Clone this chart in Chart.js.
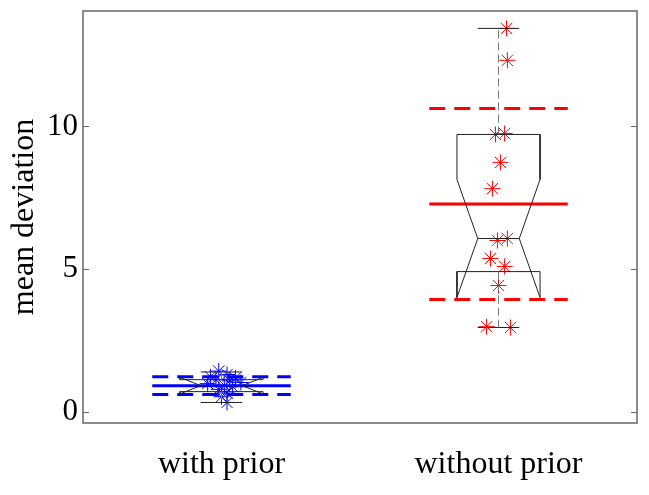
<!DOCTYPE html>
<html>
<head>
<meta charset="utf-8">
<script src="https://cdn.jsdelivr.net/npm/chart.js@4/dist/chart.umd.min.js"></script>
<style>
  html, body { margin: 0; padding: 0; background: #fff; }
  #wrap { width: 649px; height: 495px; }
</style>
</head>
<body>
<div id="wrap"><canvas id="chart" width="649" height="495"></canvas></div>
<script>
// Data
const groups = ['with prior', 'without prior'];
const yTicks = [0, 5, 10];

// box statistics per group
const q1 = [0.70, 4.91];
const median = [0.91, 6.07];
const q3 = [1.12, 9.72];
const notchLow = [0.62, 4.00];
const notchHigh = [1.20, 8.14];
const whiskerLow = [0.32, 2.95];
const whiskerHigh = [1.39, 13.44];
const means = [0.91, 7.28];
const stds = [0.31, 3.35];

// individual observations (x = jittered group position)
const withPriorX = [0.99, 1.02, 0.96, 1.05, 0.98, 1.03, 1.07, 0.95, 1.01, 1.04, 0.99, 1.02, 1.00, 1.02];
const withPriorY = [1.42, 1.30, 1.22, 1.18, 1.12, 1.08, 1.02, 0.98, 0.92, 0.88, 0.78, 0.65, 0.52, 0.32];
const withoutPriorX = [2.029, 2.032, 1.989, 2.022, 2.007, 1.978, 1.996, 2.032, 1.971, 2.022, 2.000, 1.957, 2.043];
const withoutPriorY = [13.44, 12.32, 9.72, 9.75, 8.74, 7.82, 6.00, 6.07, 5.37, 5.09, 4.42, 2.98, 2.95];

const groupColors = ['#0000ff', '#ff0000'];

// helpers to build line datasets
function seg(points, style) {
    return Object.assign({
        type: 'scatter',
        data: points.map(p => ({ x: p[0], y: p[1] })),
        showLine: true,
        pointRadius: 0,
        pointHoverRadius: 0,
        borderColor: '#222',
        borderWidth: 1,
        fill: false,
        tension: 0
    }, style || {});
}

const datasets = [];

groups.forEach((g, i) => {
    const c = i + 1;
    const bw = 0.15, nw = 0.075, cw = 0.075, lw = 0.25;
    // whiskers (dashed)
    datasets.push(seg([[c, q3[i]], [c, whiskerHigh[i]]], { borderColor: '#777', borderDash: [8, 4] }));
    datasets.push(seg([[c, q1[i]], [c, whiskerLow[i]]], { borderColor: '#777', borderDash: [8, 4] }));
    // whisker caps
    datasets.push(seg([[c - cw, whiskerHigh[i]], [c + cw, whiskerHigh[i]]]));
    datasets.push(seg([[c - cw, whiskerLow[i]], [c + cw, whiskerLow[i]]]));
    // notched box
    datasets.push(seg([
        [c - bw, q1[i]], [c - bw, notchLow[i]], [c - nw, median[i]], [c - bw, notchHigh[i]], [c - bw, q3[i]],
        [c + bw, q3[i]], [c + bw, notchHigh[i]], [c + nw, median[i]], [c + bw, notchLow[i]], [c + bw, q1[i]],
        [c - bw, q1[i]]
    ]));
    // median
    datasets.push(seg([[c - nw, median[i]], [c + nw, median[i]]]));
    // mean and +/- std
    datasets.push(seg([[c - lw, means[i]], [c + lw, means[i]]], { borderColor: groupColors[i], borderWidth: 3 }));
    datasets.push(seg([[c - lw, means[i] + stds[i]], [c + lw, means[i] + stds[i]]], { borderColor: groupColors[i], borderWidth: 3, borderDash: [16, 9] }));
    datasets.push(seg([[c - lw, means[i] - stds[i]], [c + lw, means[i] - stds[i]]], { borderColor: groupColors[i], borderWidth: 3, borderDash: [16, 9] }));
});

// observations as asterisks
datasets.push({
    type: 'scatter',
    data: withPriorX.map((x, k) => ({ x, y: withPriorY[k] })),
    pointStyle: 'star',
    pointRadius: 8,
    borderColor: groupColors[0],
    borderWidth: 1,
    backgroundColor: groupColors[0]
});
datasets.push({
    type: 'scatter',
    data: withoutPriorX.map((x, k) => ({ x, y: withoutPriorY[k] })),
    pointStyle: 'star',
    pointRadius: 8,
    borderColor: groupColors[1],
    borderWidth: 1,
    backgroundColor: groupColors[1]
});

// frame with inward ticks, MATLAB style
const framePlugin = {
    id: 'frame',
    afterDraw(chart) {
        const { ctx, chartArea: a, scales } = chart;
        ctx.save();
        ctx.strokeStyle = '#666';
        ctx.lineWidth = 1.5;
        ctx.strokeRect(a.left, a.top, a.right - a.left, a.bottom - a.top);
        ctx.lineWidth = 1;
        yTicks.forEach(v => {
            const y = Math.round(scales.y.getPixelForValue(v)) + 0.5;
            ctx.beginPath();
            ctx.moveTo(a.left, y); ctx.lineTo(a.left + 6, y);
            ctx.moveTo(a.right, y); ctx.lineTo(a.right - 6, y);
            ctx.stroke();
        });
        ctx.restore();
    }
};

const serif = "'Liberation Serif', 'DejaVu Serif', serif";

new Chart(document.getElementById('chart'), {
    type: 'scatter',
    data: { datasets },
    options: {
        responsive: false,
        animation: false,
        events: [],
        layout: { padding: { left: 0, top: 11, right: 12, bottom: 0 } },
        plugins: { legend: { display: false }, tooltip: { enabled: false } },
        scales: {
            x: {
                type: 'linear',
                min: 0.5,
                max: 2.5,
                grid: { display: false, drawTicks: false },
                border: { display: false },
                afterBuildTicks: s => { s.ticks = [{ value: 1 }, { value: 2 }]; },
                afterFit: s => { s.height = 72; s.paddingLeft = 0; s.paddingRight = 0; },
                ticks: {
                    padding: 22,
                    color: '#000',
                    font: { family: serif, size: 32 },
                    callback: v => groups[v - 1]
                }
            },
            y: {
                min: -0.4,
                max: 14.05,
                grid: { display: false, drawTicks: false },
                border: { display: false },
                afterBuildTicks: s => { s.ticks = yTicks.map(v => ({ value: v })); },
                afterFit: s => { s.width = 83; s.paddingTop = 0; s.paddingBottom = 0; },
                ticks: {
                    padding: 5,
                    color: '#000',
                    font: { family: serif, size: 31 }
                },
                title: {
                    display: true,
                    text: 'mean deviation',
                    color: '#000',
                    font: { family: serif, size: 32 },
                    padding: { top: 5, bottom: 0 }
                }
            }
        }
    },
    plugins: [framePlugin]
});
</script>
</body>
</html>
